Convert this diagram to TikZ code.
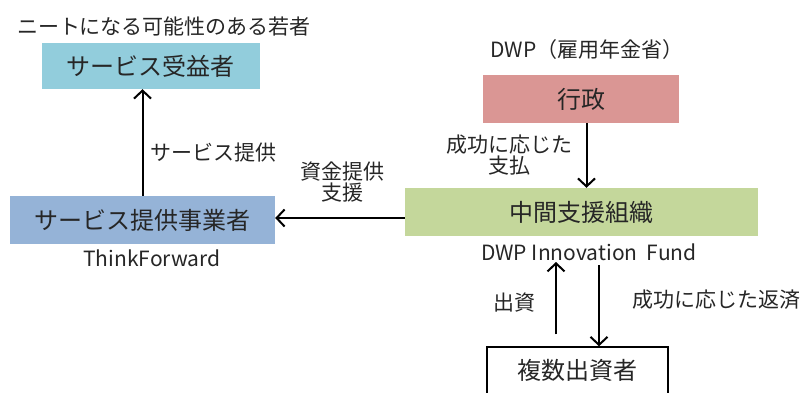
\documentclass[tikz,border=0pt]{standalone}
\usepackage{fontspec}
\setmainfont{Noto Sans CJK JP}
\usetikzlibrary{arrows.meta}
\definecolor{benc}{HTML}{92CDDC}
\definecolor{provc}{HTML}{95B3D7}
\definecolor{govc}{HTML}{DA9694}
\definecolor{midc}{HTML}{C4D79B}
\definecolor{txt}{HTML}{262626}
\tikzset{
  box/.style={draw=none, minimum width=#1, inner sep=0pt, font=\fontsize{24}{26}\selectfont, text=txt},
  lbl/.style={inner sep=0pt, font=\fontsize{21}{25}\selectfont, text=txt, align=center},
  arr/.style={line width=2pt, -{Straight Barb[length=8pt,width=17pt,line width=2pt]}}
}
\begin{document}
\begin{tikzpicture}[x=1pt,y=-1pt]
\useasboundingbox (0,0) rectangle (807,392);
% boxes
\node[box=218pt, minimum height=46pt, fill=benc] (ben) at (150.5,66) {サービス受益者};
\node[box=265pt, minimum height=48pt, fill=provc] (prov) at (142.5,220) {サービス提供事業者};
\node[box=196pt, minimum height=48pt, fill=govc] (gov) at (581,99) {行政};
\node[box=353pt, minimum height=48pt, fill=midc] (mid) at (581.5,212) {中間支援組織};
\node[box=181pt, minimum height=52pt, draw=black, line width=1.5pt, text=black] (inv) at (577.5,373) {};
\node[lbl] (invt) at (577.5,370) {\fontsize{24}{26}\selectfont 複数出資者};
% labels
\node[lbl] (lben) at (164,27) {ニートになる可能性のある若者};
\node[lbl] (lprov) at (213,153) {サービス提供};
\node[lbl] (lthink) at (152,258) {ThinkForward};
\node[lbl] (lfund) at (342,182) {資金提供\\[-4pt]支援};
\node[lbl] (ldwp) at (587,50) {DWP（雇用年金省）};
\node[lbl] (lpay) at (509,155) {成功に応じた\\[-4pt]支払};
\node[lbl] (linnov) at (589,252) {DWP Innovation\ \ Fund};
\node[lbl] (linv) at (514,303) {出資};
\node[lbl] (lrep) at (716,300) {成功に応じた返済};
% connectors
\coordinate (upend) at (556,262);
\coordinate (downstart) at (599,265);
\draw[arr] (prov.north) -- (prov.north |- ben.south);
\draw[arr] (mid.west |- 0,218) -- (prov.east |- 0,218);
\draw[arr] ([xshift=5.5pt]gov.south) -- ([xshift=5.5pt]gov.south |- mid.north);
\draw[arr] (upend |- inv.north) ++(0,-12) -- (upend);
\draw[arr] (downstart) -- (downstart |- inv.north);
\end{tikzpicture}
\end{document}
